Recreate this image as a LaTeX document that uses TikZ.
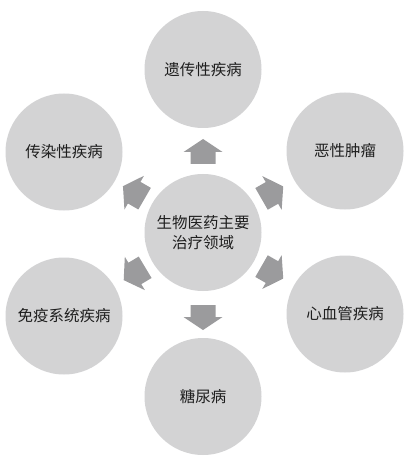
\documentclass[tikz,border=0pt]{standalone}
\usepackage{fontspec}
\setmainfont{Noto Sans CJK SC}
\usetikzlibrary{calc}
\definecolor{circ}{HTML}{D3D3D4}
\definecolor{arr}{HTML}{9B9B9D}
\definecolor{txt}{HTML}{1E1E1E}
\tikzset{
  disc/.style={circle, fill=circ, minimum size=117pt, inner sep=0pt, text=txt,
    font=\fontsize{15.5pt}{20pt}\selectfont, align=center},
  pics/blockarrow/.style={code={
    \fill[arr] (12.5pt,0pt) -- (-0.5pt,19.5pt) -- (-0.5pt,12.5pt) -- (-12.5pt,12.5pt)
      -- (-12.5pt,-12.5pt) -- (-0.5pt,-12.5pt) -- (-0.5pt,-19.5pt) -- cycle;}}
}
\begin{document}
\begin{tikzpicture}[x=1pt,y=-1pt]
\useasboundingbox (0,0) rectangle (410,462);
\node[disc] (c)  at (203,232.5) {生物医药主要\\治疗领域};
\node[disc] (t)  at (203,69.5)  {遗传性疾病};
\node[disc] (ul) at (64,152)    {传染性疾病};
\node[disc] (ur) at (345,151)   {恶性肿瘤};
\node[disc] (ll) at (64,316)    {免疫系统疾病};
\node[disc] (lr) at (345,314)   {心血管疾病};
\node[disc] (b)  at (203,396.5) {糖尿病};
\foreach \k/\d in {t/81pt, ul/80pt, ur/80pt, ll/80pt, lr/80pt, b/85pt}{
  \path let \p1=($(\k)-(c)$), \n1={atan2(\y1,\x1)} in
    pic[rotate=\n1] at ($(c)!\d!(\k)$) {blockarrow};
}
\end{tikzpicture}
\end{document}
